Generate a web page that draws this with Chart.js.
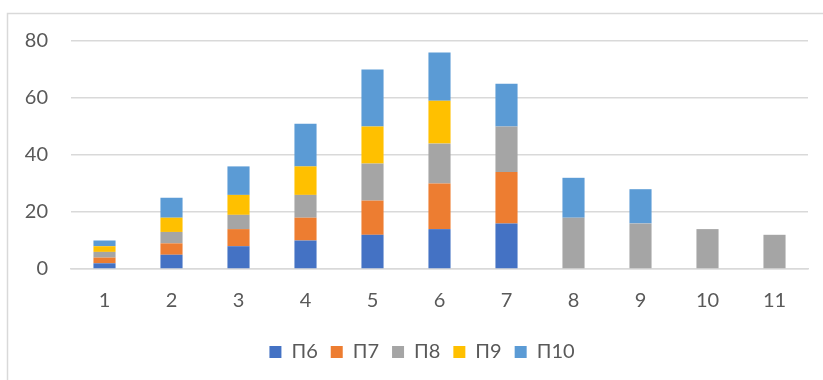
<!DOCTYPE html>
<html>
<head>
<meta charset="utf-8">
<script src="https://cdn.jsdelivr.net/npm/chart.js@4"></script>
<style>
  html, body { margin: 0; padding: 0; background: #ffffff; }
  #wrap { width: 823px; height: 380px; }
</style>
</head>
<body>
<div id="wrap"><canvas id="c" width="823" height="380"></canvas></div>
<script>
// Categories along the x axis
const categories = ['1', '2', '3', '4', '5', '6', '7', '8', '9', '10', '11'];

// Stacked series values
const p6  = [2, 5, 8, 10, 12, 14, 16, 0, 0, 0, 0];
const p7  = [2, 4, 6, 8, 12, 16, 18, 0, 0, 0, 0];
const p8  = [2, 4, 5, 8, 13, 14, 16, 18, 16, 14, 12];
const p9  = [2, 5, 7, 10, 13, 15, 0, 0, 0, 0, 0];
const p10 = [2, 7, 10, 15, 20, 17, 15, 14, 12, 0, 0];

const seriesNames = ['П6', 'П7', 'П8', 'П9', 'П10'];
const seriesData = [p6, p7, p8, p9, p10];
const seriesColors = ['#4472C4', '#ED7D31', '#A5A5A5', '#FFC000', '#5B9BD5'];

// Y axis range and step
const yMin = 0, yMax = 80, yStep = 20;

const FONT = 'Lato, "Liberation Sans", sans-serif';
const FONT_SIZE = 20;

// Light frame along the top and left edges of the chart
const framePlugin = {
  id: 'frame',
  beforeDraw(chart) {
    const ctx = chart.ctx;
    ctx.save();
    ctx.fillStyle = '#ffffff';
    ctx.fillRect(0, 0, chart.width, chart.height);
    ctx.strokeStyle = '#d9d9d9';
    ctx.lineWidth = 1.5;
    ctx.beginPath();
    ctx.moveTo(7.5, chart.height);
    ctx.lineTo(7.5, 13.5);
    ctx.lineTo(chart.width, 13.5);
    ctx.stroke();
    ctx.restore();
  }
};

// Nudge the legend row a little to the right of the canvas centre
const legendShift = {
  id: 'legendShift',
  afterLayout(chart) {
    const lg = chart.legend;
    if (lg) { lg.left += 18; lg.right += 18; }
  }
};

new Chart(document.getElementById('c'), {
  type: 'bar',
  data: {
    labels: categories,
    datasets: seriesNames.map((name, i) => ({
      label: name,
      data: seriesData[i],
      backgroundColor: seriesColors[i],
      borderWidth: 0,
      categoryPercentage: 1,
      barPercentage: 0.33
    }))
  },
  options: {
    responsive: false,
    animation: false,
    devicePixelRatio: 1,
    layout: { padding: { left: 0, right: 15, top: 41, bottom: 8 } },
    plugins: {
      tooltip: { enabled: false },
      legend: {
        position: 'bottom',
        labels: {
          color: '#595959',
          font: { family: FONT, size: FONT_SIZE },
          boxWidth: 12,
          boxHeight: 12,
          padding: 13
        }
      }
    },
    scales: {
      x: {
        stacked: true,
        grid: { display: false, drawTicks: false },
        border: { display: true, color: '#d9d9d9', width: 1.5 },
        ticks: { color: '#595959', font: { family: FONT, size: FONT_SIZE }, padding: 20 },
        afterFit(s) { s.height = 60; }
      },
      y: {
        stacked: true,
        min: yMin,
        max: yMax,
        grid: { color: '#d9d9d9', lineWidth: 1.5, drawTicks: false },
        border: { display: false },
        ticks: { stepSize: yStep, color: '#595959', font: { family: FONT, size: FONT_SIZE }, padding: 23 },
        afterFit(s) { s.width = 71; }
      }
    }
  },
  plugins: [framePlugin, legendShift]
});
</script>
</body>
</html>
